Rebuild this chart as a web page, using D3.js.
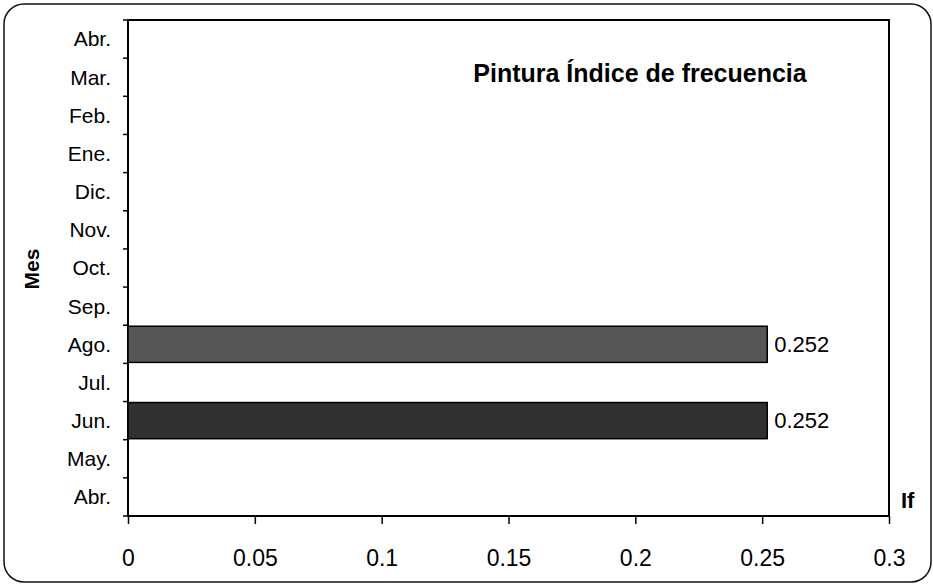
<!DOCTYPE html>
<html>
<head>
<meta charset="utf-8">
<script src="https://cdn.jsdelivr.net/npm/d3@7"></script>
<style>
  body { margin: 0; background: #fff; }
  svg { font-family: "Liberation Sans", Arial, sans-serif; }
</style>
</head>
<body>
<div id="chart"></div>
<script>
// Months from bottom to top
const months = ["Abr.", "May.", "Jun.", "Jul.", "Ago.", "Sep.", "Oct.", "Nov.", "Dic.", "Ene.", "Feb.", "Mar.", "Abr."];
const ifValues = [null, null, 0.252, null, 0.252, null, null, null, null, null, null, null, null];
const xTicks = [0, 0.05, 0.1, 0.15, 0.2, 0.25, 0.3];
const barColors = ["#303030", "#575757"]; // Jun darker, Ago lighter (scan texture)

const width = 933, height = 586;
const margin = { top: 20, right: 44, bottom: 70, left: 128 };

const svg = d3.select("#chart").append("svg")
  .attr("width", width)
  .attr("height", height);

// outer rounded frame
svg.append("rect")
  .attr("x", 4).attr("y", 4)
  .attr("width", 927).attr("height", 578)
  .attr("rx", 20)
  .attr("fill", "none")
  .attr("stroke", "#111")
  .attr("stroke-width", 1.5);

const innerW = width - margin.left - margin.right;
const innerH = height - margin.top - margin.bottom;

const g = svg.append("g").attr("transform", `translate(${margin.left},${margin.top})`);

// use index keys because "Abr." appears twice
const idx = months.map((d, i) => i);
const y = d3.scaleBand().domain(idx.slice().reverse()).range([0, innerH]).padding(0);
const x = d3.scaleLinear().domain([0, 0.3]).range([0, innerW]);

// plot frame
g.append("rect")
  .attr("width", innerW).attr("height", innerH)
  .attr("fill", "none")
  .attr("stroke", "#000")
  .attr("stroke-width", 2);

// bars
const barData = idx.filter(i => ifValues[i] != null);
g.selectAll(".bar")
  .data(barData)
  .enter().append("rect")
  .attr("class", "bar")
  .attr("x", x(0))
  .attr("y", i => y(i) + 1)
  .attr("width", i => x(ifValues[i]))
  .attr("height", y.bandwidth() - 2)
  .attr("fill", (i, k) => barColors[k])
  .attr("stroke", "#000")
  .attr("stroke-width", 1.5);

// value labels
g.selectAll(".val")
  .data(barData)
  .enter().append("text")
  .attr("class", "val")
  .attr("x", i => x(ifValues[i]) + 7)
  .attr("y", i => y(i) + y.bandwidth() / 2)
  .attr("dy", "0.35em")
  .style("font-size", "22px")
  .text(i => ifValues[i].toFixed(3));

// y axis: ticks at band boundaries
const yAxisG = g.append("g");
const bounds = d3.range(months.length + 1).map(k => k * y.step());
yAxisG.selectAll("line")
  .data(bounds)
  .enter().append("line")
  .attr("x1", -5).attr("x2", 0)
  .attr("y1", d => d).attr("y2", d => d)
  .attr("stroke", "#000").attr("stroke-width", 1.5);
yAxisG.selectAll("text")
  .data(idx)
  .enter().append("text")
  .attr("x", -17)
  .attr("y", i => y(i) + y.bandwidth() / 2)
  .attr("dy", "0.35em")
  .attr("text-anchor", "end")
  .style("font-size", "21px")
  .text(i => months[i]);

// x axis
const xAxis = d3.axisBottom(x).tickValues(xTicks).tickSize(8).tickPadding(26)
  .tickFormat(d => String(+d.toFixed(2)));
const xAxisG = g.append("g")
  .attr("transform", `translate(0,${innerH})`)
  .call(xAxis);
xAxisG.select(".domain").remove();
xAxisG.selectAll("line").attr("stroke", "#000").attr("stroke-width", 1.5);
xAxisG.selectAll("text")
  .style("font-size", "23px")
  .style("font-family", "\"Liberation Sans\", Arial, sans-serif")
  .attr("fill", "#000");

// title
svg.append("text")
  .attr("x", 640).attr("y", 82)
  .attr("text-anchor", "middle")
  .style("font-size", "25px")
  .style("font-weight", "bold")
  .text("Pintura Índice de frecuencia");

// axis titles
svg.append("text")
  .attr("transform", "translate(39,269) rotate(-90)")
  .attr("text-anchor", "middle")
  .style("font-size", "21px")
  .style("font-weight", "bold")
  .text("Mes");

svg.append("text")
  .attr("x", 901).attr("y", 508)
  .style("font-size", "22px")
  .style("font-weight", "bold")
  .text("If");
</script>
</body>
</html>
